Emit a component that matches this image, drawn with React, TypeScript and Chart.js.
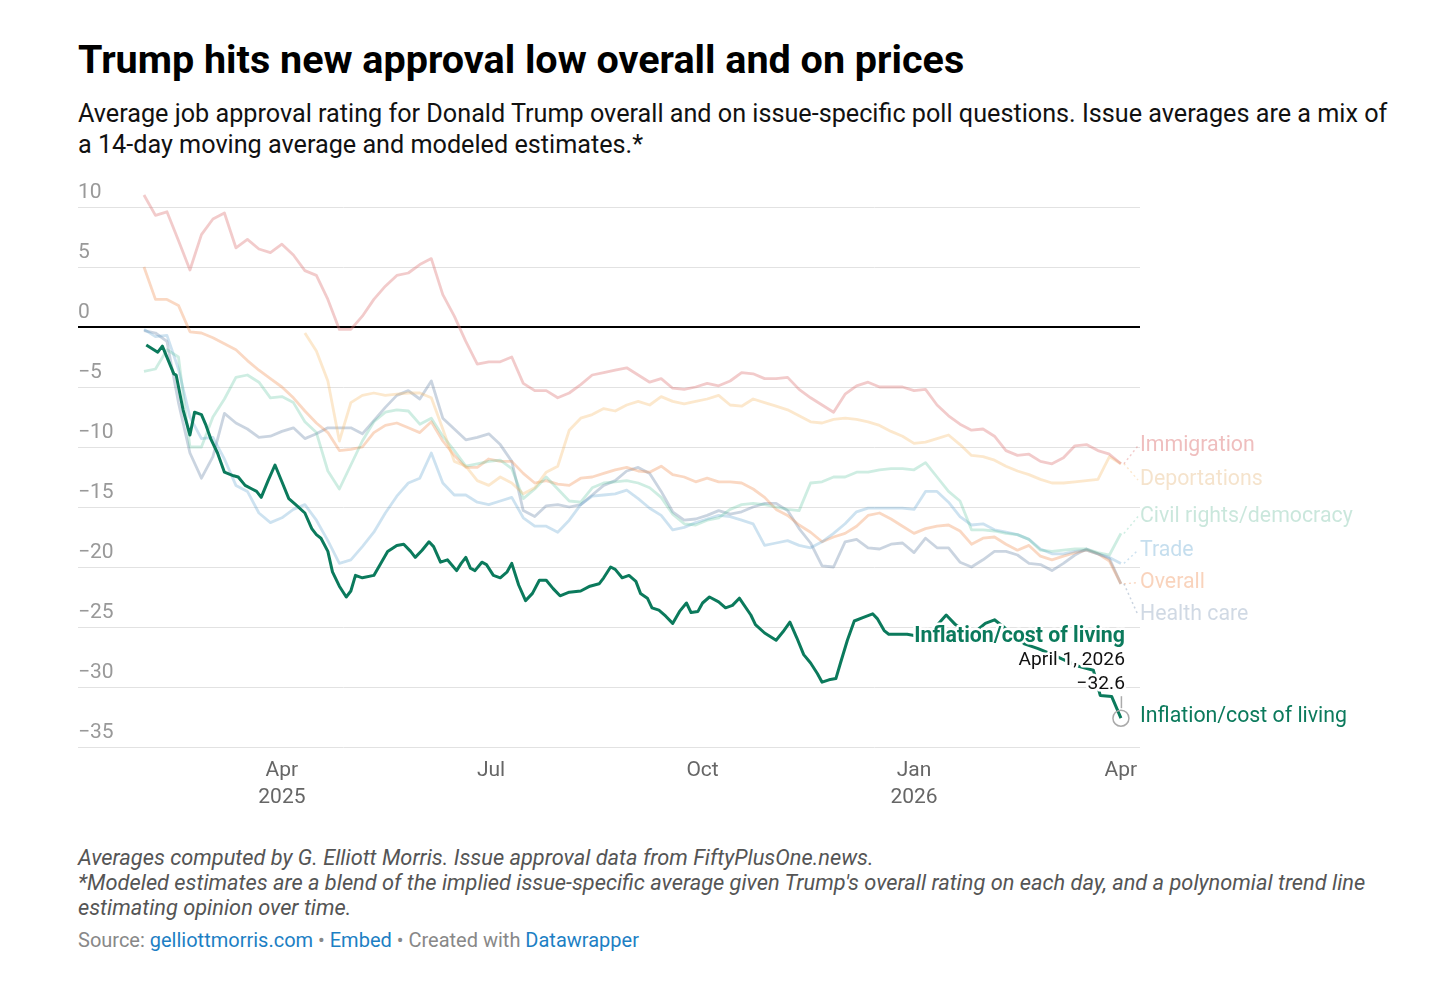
import React, { useEffect, useRef } from 'react';
import { Chart, registerables } from 'chart.js';
Chart.register(...registerables);

// Day index: 0 = Jan 1, 2025
const DAYS = [
  30, 35, 40, 45, 50, 55, 60, 65, 70, 75,
  80, 85, 90, 95, 100, 105, 110, 115, 120, 125,
  130, 135, 140, 145, 150, 155, 160, 165, 170, 175,
  180, 185, 190, 195, 200, 205, 210, 215, 220, 225,
  230, 235, 240, 245, 250, 255, 260, 265, 270, 275,
  280, 285, 290, 295, 300, 305, 310, 315, 320, 325,
  330, 335, 340, 345, 350, 355, 360, 365, 370, 375,
  380, 385, 390, 395, 400, 405, 410, 415, 420, 425,
  430, 435, 440, 445, 450, 455,
];

const IMMIGRATION = [
  11.0, 9.3, 9.6, 7.2, 4.75, 7.7, 9.0, 9.5, 6.6, 7.3,
  6.5, 6.2, 6.9, 6.0, 4.7, 4.3, 2.3, -0.2, -0.2, 0.9,
  2.3, 3.4, 4.3, 4.5, 5.2, 5.7, 2.7, 0.9, -1.2, -3.1,
  -2.9, -2.9, -2.5, -4.7, -5.3, -5.3, -5.9, -5.5, -4.8, -4.0,
  -3.8, -3.6, -3.4, -4.0, -4.6, -4.3, -5.1, -5.2, -5.0, -4.7,
  -4.9, -4.5, -3.8, -3.9, -4.3, -4.3, -4.2, -5.2, -5.9, -6.5,
  -7.1, -5.6, -4.9, -4.6, -5.0, -5.0, -5.0, -5.3, -5.2, -6.5,
  -7.4, -8.1, -8.6, -8.5, -9.1, -10.3, -10.7, -10.6, -11.2, -11.4,
  -10.9, -9.9, -9.8, -10.3, -10.6, -11.4,
];

const DEPORTATIONS = [
  null, null, null, null, null, null, null, null, null, null,
  null, null, null, null, -0.5, -2.0, -4.5, -9.5, -6.3, -5.7,
  -5.5, -5.7, -5.6, -5.5, -5.5, -5.9, -8.5, -11.2, -11.6, -12.8,
  -13.2, -12.5, -13.0, -13.9, -13.4, -12.1, -11.6, -8.6, -7.6, -7.3,
  -6.8, -7.0, -6.5, -6.2, -6.5, -5.8, -6.2, -6.4, -6.2, -6.0,
  -5.7, -6.5, -6.6, -6.0, -6.3, -6.6, -6.9, -7.4, -7.9, -8.0,
  -7.7, -7.6, -7.7, -7.9, -8.2, -8.7, -9.1, -9.7, -9.6, -9.3,
  -9.0, -9.8, -10.7, -10.8, -11.1, -11.6, -12.0, -12.3, -12.7, -13.0,
  -13.0, -12.9, -12.8, -12.7, -10.8, -11.4,
];

const CIVIL_RIGHTS = [
  -3.7, -3.5, -1.9, -2.5, -10.0, -10.0, -7.5, -6.0, -4.2, -4.0,
  -4.6, -5.9, -5.8, -6.3, -7.9, -8.8, -12.0, -13.5, -11.5, -9.5,
  -7.9, -7.1, -6.9, -7.0, -8.1, -7.6, -9.1, -10.3, -11.6, -11.4,
  -11.2, -11.1, -11.8, -14.3, -13.5, -12.5, -13.5, -14.5, -14.6, -13.4,
  -13.0, -12.9, -12.8, -13.0, -13.4, -14.2, -15.6, -16.4, -16.5, -16.1,
  -15.9, -15.2, -14.8, -14.7, -14.8, -15.0, -15.2, -15.3, -13.0, -12.9,
  -12.5, -12.5, -12.1, -12.1, -11.9, -11.8, -11.8, -11.9, -11.3, -12.5,
  -13.7, -14.5, -16.9, -16.9, -17.0, -17.2, -17.3, -17.7, -18.6, -18.7,
  -18.6, -18.5, -18.5, -18.8, -19.0, -17.2,
];

const TRADE = [
  -0.2, -0.8, -0.7, -3.5, -7.5, -9.3, -9.2, -11.0, -13.2, -13.7,
  -15.5, -16.3, -15.9, -15.2, -14.8, -16.1, -17.8, -19.7, -19.4, -18.3,
  -17.1, -15.5, -14.1, -13.0, -12.6, -10.5, -13.0, -14.0, -14.0, -14.6,
  -14.8, -14.5, -14.2, -15.9, -16.6, -16.6, -17.1, -16.1, -14.8, -14.1,
  -14.0, -13.9, -13.6, -14.3, -15.1, -15.7, -16.9, -16.7, -16.3, -16.0,
  -15.7, -15.8, -16.1, -16.4, -18.2, -18.0, -17.8, -18.2, -18.4, -17.9,
  -17.2, -16.4, -15.4, -15.1, -15.1, -15.1, -15.1, -15.2, -13.7, -13.7,
  -14.6, -15.8, -16.5, -16.4, -16.9, -17.1, -17.3, -17.7, -18.5, -18.9,
  -18.9, -18.7, -18.6, -18.9, -19.2, -19.7,
];

const OVERALL = [
  5.0, 2.3, 2.3, 1.8, -0.4, -0.5, -0.9, -1.4, -1.9, -2.8,
  -3.6, -4.3, -5.0, -5.9, -7.0, -8.0, -8.8, -10.3, -10.2, -10.0,
  -8.8, -8.2, -8.0, -8.4, -8.8, -7.9, -9.5, -10.7, -11.7, -11.7,
  -11.0, -11.2, -11.2, -12.2, -13.0, -12.8, -13.1, -13.2, -12.6, -12.5,
  -12.2, -11.9, -11.7, -12.0, -12.1, -11.6, -12.3, -12.5, -12.9, -12.6,
  -12.9, -12.9, -13.0, -13.5, -14.2, -15.2, -15.7, -16.5, -17.1, -17.9,
  -17.5, -17.2, -16.6, -15.7, -15.5, -16.0, -16.6, -17.2, -16.8, -16.6,
  -16.5, -17.0, -18.1, -17.6, -17.5, -18.1, -18.6, -18.2, -19.1, -19.4,
  -19.1, -18.8, -18.6, -18.9, -19.5, -21.4,
];

const HEALTH_CARE = [
  -0.3, -0.5, -1.2, -6.3, -10.5, -12.6, -10.8, -7.2, -8.0, -8.5,
  -9.2, -9.1, -8.7, -8.4, -9.3, -8.9, -8.4, -8.4, -8.4, -8.9,
  -7.8, -6.7, -5.7, -5.3, -6.0, -4.5, -7.6, -8.5, -9.4, -9.2,
  -8.9, -9.8, -11.2, -15.3, -15.8, -14.9, -14.8, -15.0, -14.8, -14.0,
  -13.2, -12.8, -12.0, -11.7, -12.2, -13.7, -15.4, -16.1, -16.0, -15.7,
  -15.3, -15.6, -15.4, -15.0, -14.7, -14.7, -15.3, -16.8, -18.0, -19.9,
  -20.0, -17.9, -17.7, -18.4, -18.5, -18.1, -18.0, -18.8, -17.6, -18.4,
  -18.4, -19.6, -20.0, -19.4, -18.7, -18.7, -19.0, -19.7, -19.8, -20.3,
  -19.7, -19.0, -18.5, -18.9, -19.3, -21.4,
];

// Inflation / cost of living (highlighted), read at its turning points
const INFLATION_DAYS = [
  31, 36, 38, 43, 44, 47, 50, 52, 55, 57, 59, 62, 65, 69, 71, 74, 77, 79, 81, 84,
  87, 90, 93, 96, 100, 103, 105, 107, 110, 112, 115, 118, 120, 122, 125, 130, 133, 136, 140, 143,
  146, 148, 151, 154, 156, 159, 162, 166, 168, 170, 172, 174, 177, 179, 182, 185, 188, 190, 193, 196,
  199, 202, 205, 208, 211, 215, 220, 224, 228, 230, 233, 235, 238, 241, 244, 246, 249, 251, 254, 257,
  260, 263, 266, 268, 271, 273, 276, 280, 283, 286, 289, 294, 296, 300, 305, 308, 311, 314, 317, 320,
  323, 325, 328, 331, 333, 336, 339, 343, 347, 349, 352, 354, 357, 362, 365, 372, 379, 383, 387, 391,
  396, 400, 404, 409, 413, 419, 424, 431, 437, 443, 446, 451, 455,
];
const INFLATION = [
  -1.5, -2.1, -1.6, -3.9, -4.0, -6.9, -9.0, -7.1, -7.3, -8.2, -9.3, -10.5, -12.1, -12.4, -12.5, -13.2, -13.5, -13.7, -14.2, -12.8,
  -11.5, -12.9, -14.3, -14.8, -15.5, -16.8, -17.3, -17.6, -18.7, -20.4, -21.6, -22.5, -22.0, -20.7, -20.9, -20.7, -19.7, -18.7, -18.2, -18.1,
  -18.7, -19.2, -18.6, -17.9, -18.3, -19.6, -19.4, -20.3, -19.7, -19.2, -20.1, -20.3, -19.6, -19.8, -20.7, -20.9, -20.4, -19.7, -21.5, -22.8,
  -22.2, -21.1, -21.1, -21.8, -22.4, -22.1, -22.0, -21.6, -21.4, -20.9, -20.0, -20.2, -20.9, -20.7, -21.2, -22.2, -22.6, -23.4, -23.6, -24.1,
  -24.7, -23.7, -23.0, -23.8, -23.7, -23.0, -22.5, -22.9, -23.4, -23.2, -22.6, -24.0, -24.8, -25.5, -26.1, -25.4, -24.6, -25.9, -27.3, -28.0,
  -28.9, -29.6, -29.4, -29.3, -28.0, -26.1, -24.5, -24.2, -23.9, -24.3, -25.3, -25.6, -25.6, -25.6, -25.7, -25.5, -24.0, -24.8, -25.3, -25.5,
  -24.7, -24.4, -25.0, -25.8, -26.4, -26.8, -27.2, -27.8, -28.3, -28.6, -30.7, -30.8, -32.6,
];

const SERIES_NAMES = ['Immigration', 'Deportations', 'Civil rights/democracy', 'Trade', 'Overall', 'Health care'];
const SERIES_COLORS = [
  'rgba(220,110,110,0.36)',
  'rgba(245,180,90,0.30)',
  'rgba(80,190,150,0.28)',
  'rgba(90,160,205,0.30)',
  'rgba(240,140,80,0.34)',
  'rgba(100,130,165,0.34)',
];
const LABEL_COLORS = [
  'rgba(220,110,110,0.45)',
  'rgba(225,175,110,0.35)',
  'rgba(80,175,140,0.30)',
  'rgba(90,160,205,0.35)',
  'rgba(240,140,80,0.38)',
  'rgba(100,130,165,0.30)',
];
const LABEL_SLOTS = [-9.9, -12.75, -15.8, -18.6, -21.3, -24.0];
const INFLATION_NAME = 'Inflation/cost of living';
const INFLATION_COLOR = '#0b7a5c';
const LAST_DATE_LABEL = 'April 1, 2026';

const Y_TICKS = [10, 5, 0, -5, -10, -15, -20, -25, -30, -35];
const X_TICKS = [90, 181, 273, 365, 455];
const X_LABELS = [['Apr', '2025'], ['Jul'], ['Oct'], ['Jan', '2026'], ['Apr']];

const fmt = (v: number) => (v < 0 ? '\u2212' + Math.abs(v) : String(v));

export default function App() {
  const ref = useRef<HTMLCanvasElement>(null);

  useEffect(() => {
    if (!ref.current) return;
    const faintValues = [IMMIGRATION, DEPORTATIONS, CIVIL_RIGHTS, TRADE, OVERALL, HEALTH_CARE];

    const datasets: any[] = [
      {
        label: INFLATION_NAME,
        data: INFLATION_DAYS.map((d, i) => ({ x: d, y: INFLATION[i] })),
        borderColor: INFLATION_COLOR,
        borderWidth: 3,
        pointRadius: 0,
        tension: 0,
        borderJoinStyle: 'round',
      },
      ...faintValues.map((vals, k) => ({
        label: SERIES_NAMES[k],
        data: DAYS.map((d, i) => ({ x: d, y: vals[i] })),
        borderColor: SERIES_COLORS[k],
        borderWidth: 2.8,
        pointRadius: 0,
        tension: 0,
        spanGaps: false,
        borderJoinStyle: 'round',
      })),
    ];

    const overlay = {
      id: 'overlay',
      beforeDatasetsDraw(chart: any) {
        const { ctx, chartArea, scales } = chart;
        const x = scales.x;
        const y = scales.y;
        ctx.save();
        Y_TICKS.forEach((v) => {
          const py = Math.round(y.getPixelForValue(v));
          ctx.beginPath();
          if (v === 0) {
            ctx.strokeStyle = '#000';
            ctx.lineWidth = 2;
            ctx.moveTo(chartArea.left, py);
            ctx.lineTo(chartArea.right, py);
          } else {
            ctx.strokeStyle = '#e2e2e2';
            ctx.lineWidth = 1;
            ctx.moveTo(chartArea.left, py + 0.5);
            ctx.lineTo(chartArea.right, py + 0.5);
          }
          ctx.stroke();
        });
        ctx.font = '21px Roboto';
        ctx.fillStyle = '#999';
        ctx.textAlign = 'left';
        ctx.textBaseline = 'bottom';
        Y_TICKS.forEach((v) => {
          ctx.fillText(fmt(v), chartArea.left, y.getPixelForValue(v) - 4);
        });
        ctx.fillStyle = '#666';
        ctx.textAlign = 'center';
        ctx.textBaseline = 'middle';
        X_TICKS.forEach((d, i) => {
          const px = x.getPixelForValue(d);
          X_LABELS[i].forEach((t, j) => {
            ctx.fillText(t, px, chartArea.bottom + 24 + j * 27);
          });
        });
        ctx.restore();
      },
      afterDatasetsDraw(chart: any) {
        const { ctx, chartArea, scales } = chart;
        const x = scales.x;
        const y = scales.y;
        ctx.save();
        const lastIdx = DAYS.length - 1;
        const endX = x.getPixelForValue(DAYS[lastIdx]);
        ctx.font = '21.3px Roboto';
        ctx.textAlign = 'left';
        ctx.textBaseline = 'middle';
        faintValues.forEach((vals, k) => {
          const ey = y.getPixelForValue(vals[lastIdx] as number);
          const ly = y.getPixelForValue(LABEL_SLOTS[k]);
          ctx.strokeStyle = SERIES_COLORS[k];
          ctx.lineWidth = 1.5;
          ctx.setLineDash([2, 3]);
          ctx.beginPath();
          ctx.moveTo(endX + 3, ey);
          ctx.lineTo(chartArea.right - 2, ly);
          ctx.stroke();
          ctx.setLineDash([]);
          ctx.fillStyle = LABEL_COLORS[k];
          ctx.fillText(SERIES_NAMES[k], chartArea.right, ly);
        });

        // highlighted series end marker and annotation
        const li = INFLATION.length - 1;
        const px = x.getPixelForValue(INFLATION_DAYS[li]);
        const py = y.getPixelForValue(INFLATION[li]);
        ctx.strokeStyle = '#aaa';
        ctx.lineWidth = 1.5;
        ctx.beginPath();
        ctx.arc(px, py, 8, 0, Math.PI * 2);
        ctx.stroke();
        ctx.beginPath();
        ctx.moveTo(px + 0.5, py - 22);
        ctx.lineTo(px + 0.5, py - 10);
        ctx.stroke();

        ctx.fillStyle = INFLATION_COLOR;
        ctx.fillText(INFLATION_NAME, chartArea.right, y.getPixelForValue(-32.5));

        ctx.textAlign = 'right';
        ctx.lineJoin = 'round';
        ctx.strokeStyle = '#fff';
        ctx.lineWidth = 5;
        const tx = px + 4;
        ctx.font = 'bold 21.3px Roboto';
        ctx.strokeText(INFLATION_NAME, tx, py - 82);
        ctx.fillStyle = INFLATION_COLOR;
        ctx.fillText(INFLATION_NAME, tx, py - 82);
        ctx.font = '19.2px Roboto';
        ctx.fillStyle = '#111';
        ctx.strokeText(LAST_DATE_LABEL, tx, py - 58);
        ctx.fillText(LAST_DATE_LABEL, tx, py - 58);
        const valText = fmt(INFLATION[li]);
        ctx.strokeText(valText, tx, py - 34);
        ctx.fillText(valText, tx, py - 34);
        ctx.restore();
      },
    };

    const chart = new Chart(ref.current, {
      type: 'line',
      data: { datasets },
      options: {
        animation: false,
        responsive: false,
        devicePixelRatio: window.devicePixelRatio || 1,
        layout: { padding: { left: 70, right: 308, top: 13, bottom: 73 } },
        plugins: { legend: { display: false }, tooltip: { enabled: false } },
        scales: {
          x: { type: 'linear', min: 1.3, max: 463.3, display: false },
          y: { type: 'linear', min: -35, max: 12, display: false },
        },
      },
      plugins: [overlay],
    });
    return () => chart.destroy();
  }, []);

  const abs = (l: number, t: number): React.CSSProperties => ({ position: 'absolute', left: l, top: t });

  return (
    <div style={{ position: 'relative', width: 1440, height: 992, fontFamily: 'Roboto, sans-serif', color: '#000' }}>
      <div style={{ ...abs(70, 29), fontSize: 39.5, fontWeight: 700, lineHeight: '46px', whiteSpace: 'nowrap' }}>
        Trump hits new approval low overall and on prices
      </div>
      <div style={{ ...abs(70, 90), fontSize: 25.2, lineHeight: '31px', color: '#111', whiteSpace: 'nowrap' }}>
        Average job approval rating for Donald Trump overall and on issue-specific poll questions. Issue averages are a mix of
        <br />
        a 14-day moving average and modeled estimates.*
      </div>
      <canvas ref={ref} width={1440} height={650} style={{ ...abs(0, 162), width: 1440, height: 650 }} />
      <div style={{ ...abs(70, 837), fontSize: 21.8, lineHeight: '25px', fontStyle: 'italic', color: '#555', whiteSpace: 'nowrap' }}>
        Averages computed by G. Elliott Morris. Issue approval data from FiftyPlusOne.news.
        <br />
        *Modeled estimates are a blend of the implied issue-specific average given Trump's overall rating on each day, and a polynomial trend line
        <br />
        estimating opinion over time.
      </div>
      <div style={{ ...abs(70, 920), fontSize: 20, lineHeight: '25px', color: '#888', whiteSpace: 'nowrap' }}>
        Source: <span style={{ color: '#1d7fc4' }}>gelliottmorris.com</span> • <span style={{ color: '#1d7fc4' }}>Embed</span>
        {'  '}• Created with <span style={{ color: '#1d7fc4' }}>Datawrapper</span>
      </div>
    </div>
  );
}
